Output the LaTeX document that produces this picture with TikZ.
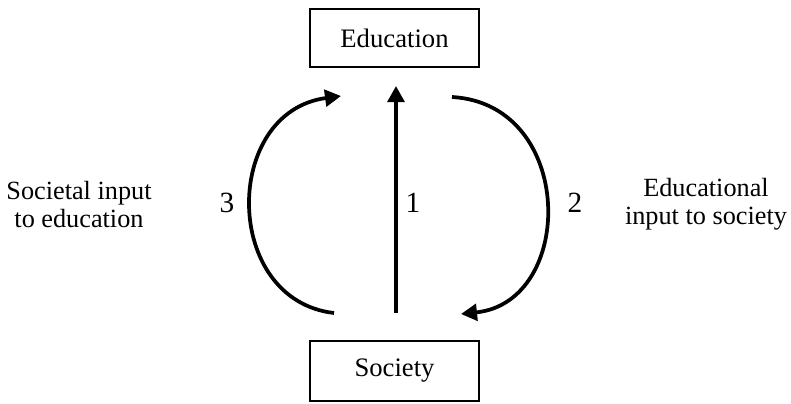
\documentclass[tikz,border=0pt]{standalone}
\usepackage{fontspec}
\setmainfont{Liberation Serif}
\usetikzlibrary{arrows.meta}
\begin{document}
\begin{tikzpicture}[x=0.75pt,y=-0.75pt,
  boxnode/.style={draw=black,line width=0.9pt,minimum width=126.75pt,inner sep=0pt,font=\fontsize{20}{22}\selectfont},
  lbl/.style={font=\fontsize{19.7}{21}\selectfont,align=center,inner sep=0pt},
  numlbl/.style={font=\fontsize{22}{24}\selectfont,inner sep=0pt},
  flow/.style={line width=2.8pt,-{Triangle[length=12pt,width=12.5pt]}}]
\useasboundingbox (0,0) rectangle (791,403);
\node[boxnode,minimum height=43.5pt] (edu) at (394.5,38) {Education};
\node[boxnode,minimum height=45pt] (soc) at (394.5,371) {Society};
\coordinate (c1s) at (396,313);
\coordinate (c1e) at (396,86);
\coordinate (l3s) at (334,313);
\coordinate (l3e) at (341,96);
\coordinate (r2s) at (452,97);
\coordinate (r2e) at (461,314);
\draw[flow] (c1s) -- (c1e);
\draw[flow] (l3s) .. controls (222,300) and (222,112) .. (l3e);
\draw[flow] (r2s) .. controls (576,104) and (576,302) .. (r2e);
\node[numlbl] (n3) at (227,203) {3};
\node[numlbl] (n1) at (413,203) {1};
\node[numlbl] (n2) at (575,203) {2};
\node[lbl] (left) at (79,205) {Societal input\\to education};
\node[lbl] (right) at (706,204) {Educational\\input to society};
\end{tikzpicture}
\end{document}
